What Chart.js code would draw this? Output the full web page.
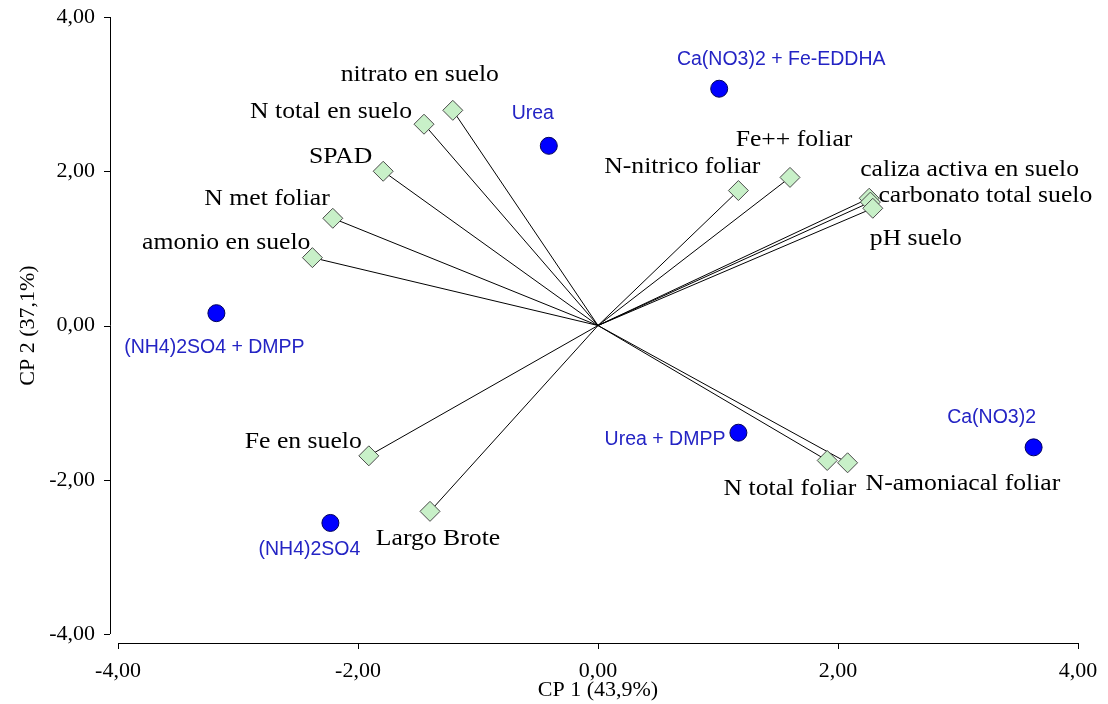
<!DOCTYPE html>
<html>
<head>
<meta charset="utf-8">
<script src="https://cdn.jsdelivr.net/npm/chart.js@4"></script>
<style>
  html, body { margin: 0; padding: 0; background: #fff; }
  #wrap { width: 1108px; height: 704px; }
</style>
</head>
<body>
<div id="wrap"><canvas id="biplot"></canvas></div>
<script>
// ── Datos: tratamientos (puntuaciones) ────────────────────────────────────
const TREAT_NAMES = ['(NH4)2SO4 + DMPP', 'Urea', 'Ca(NO3)2 + Fe-EDDHA', 'Urea + DMPP', 'Ca(NO3)2', '(NH4)2SO4'];
const TREAT_CP1   = [-3.18, -0.41, 1.01, 1.17, 3.63, -2.23];
const TREAT_CP2   = [ 0.16,  2.33, 3.07, -1.39, -1.58, -2.56];

// ── Datos: variables (cargas) ─────────────────────────────────────────────
const VAR_NAMES = [
  'nitrato en suelo', 'N total en suelo', 'SPAD', 'N met foliar', 'amonio en suelo',
  'Fe en suelo', 'Largo Brote', 'N-nitrico foliar', 'Fe++ foliar',
  'caliza activa en suelo', 'carbonato total suelo', 'pH suelo',
  'N total foliar', 'N-amoniacal foliar',
];
const VAR_CP1 = [-1.21, -1.45, -1.79, -2.21, -2.38, -1.91, -1.40, 1.17, 1.60, 2.26, 2.27, 2.29, 1.91, 2.08];
const VAR_CP2 = [ 2.79,  2.61,  2.00,  1.39,  0.88, -1.69, -2.41, 1.75, 1.92, 1.65, 1.60, 1.52, -1.75, -1.78];

const AXIS_TICKS = [-4, -2, 0, 2, 4];

// colocación de etiquetas (px respecto al punto)
const TREAT_LABEL = [
  { dx: -2,  dy: 34,  align: 'center' },
  { dx: -16, dy: -32, align: 'center' },
  { dx: 62,  dy: -29, align: 'center' },
  { dx: -13, dy: 7,   align: 'right'  },
  { dx: -42, dy: -30, align: 'center' },
  { dx: -21, dy: 27,  align: 'center' },
];
const VAR_LABEL = [
  { dx: -33, dy: -36, align: 'center' },
  { dx: -12, dy: -13, align: 'right'  },
  { dx: -11, dy: -15, align: 'right'  },
  { dx: -3,  dy: -20, align: 'right'  },
  { dx: -2,  dy: -15, align: 'right'  },
  { dx: -7,  dy: -14, align: 'right'  },
  { dx: 8,   dy: 27,  align: 'center' },
  { dx: 22,  dy: -24, align: 'right'  },
  { dx: 4,   dy: -38, align: 'center' },
  { dx: -9,  dy: -29, align: 'left'   },
  { dx: 8,   dy: -6,  align: 'left'   },
  { dx: -3,  dy: 30,  align: 'left'   },
  { dx: 29,  dy: 28,  align: 'right'  },
  { dx: 18,  dy: 21,  align: 'left'   },
];

const SERIF = "'Liberation Serif', 'Times New Roman', serif";
const SANS  = "'Liberation Sans', Arial, sans-serif";
const fmt = v => v.toFixed(2).replace('.', ',');

// ── Ejes desplazados (estilo SPSS) ────────────────────────────────────────
const offsetAxes = {
  id: 'offsetAxes',
  afterDraw(chart) {
    const { ctx, chartArea: a, scales: { x, y } } = chart;
    const ax = a.left - 8, ay = a.bottom + 9;
    ctx.save();
    ctx.strokeStyle = '#000';
    ctx.lineWidth = 1;
    ctx.beginPath();
    ctx.moveTo(ax + 0.5, a.top); ctx.lineTo(ax + 0.5, a.bottom);
    ctx.moveTo(a.left, ay + 0.5); ctx.lineTo(a.right, ay + 0.5);
    AXIS_TICKS.forEach(v => {
      const py = Math.round(y.getPixelForValue(v)) + 0.5;
      ctx.moveTo(ax - 6, py); ctx.lineTo(ax, py);
      const px = Math.round(x.getPixelForValue(v)) + 0.5;
      ctx.moveTo(px, ay); ctx.lineTo(px, ay + 6);
    });
    ctx.stroke();
    ctx.restore();
  },
};

// ── Etiquetas de puntos ───────────────────────────────────────────────────
function drawLabel(ctx, text, px, py, pos, font, color, stretch) {
  ctx.save();
  ctx.font = font;
  ctx.fillStyle = color;
  ctx.textAlign = pos.align;
  ctx.textBaseline = 'middle';
  ctx.translate(px + pos.dx, py + pos.dy);
  ctx.scale(stretch, 1);
  ctx.fillText(text, 0, 0);
  ctx.restore();
}

const pointLabels = {
  id: 'pointLabels',
  afterDatasetsDraw(chart) {
    const { ctx, scales: { x, y } } = chart;
    VAR_NAMES.forEach((n, i) => drawLabel(ctx, n,
      x.getPixelForValue(VAR_CP1[i]), y.getPixelForValue(VAR_CP2[i]),
      VAR_LABEL[i], `24px ${SERIF}`, '#000', 1.07));
    TREAT_NAMES.forEach((n, i) => drawLabel(ctx, n,
      x.getPixelForValue(TREAT_CP1[i]), y.getPixelForValue(TREAT_CP2[i]),
      TREAT_LABEL[i], `19.5px ${SANS}`, '#2424c4', 1));
  },
};

const vectorSets = VAR_NAMES.map((n, i) => ({
  label: n,
  data: [{ x: 0, y: 0 }, { x: VAR_CP1[i], y: VAR_CP2[i] }],
  showLine: true, borderColor: '#000', borderWidth: 1,
  pointRadius: 0, order: 3, clip: false,
}));

new Chart(document.getElementById('biplot'), {
  type: 'scatter',
  data: {
    datasets: [
      ...vectorSets,
      {
        label: 'variables',
        data: VAR_CP1.map((v, i) => ({ x: v, y: VAR_CP2[i] })),
        pointStyle: 'rectRot', pointRadius: 10,
        backgroundColor: '#c8f0c8', borderColor: '#4a4a4a', borderWidth: 1,
        order: 2, clip: false,
      },
      {
        label: 'tratamientos',
        data: TREAT_CP1.map((v, i) => ({ x: v, y: TREAT_CP2[i] })),
        pointStyle: 'circle', pointRadius: 8.5,
        backgroundColor: '#0000ff', borderColor: '#00005a', borderWidth: 1,
        order: 1, clip: false,
      },
    ],
  },
  options: {
    responsive: true, maintainAspectRatio: false, animation: false,
    layout: { padding: { top: 17, right: 30, left: 0, bottom: 0 } },
    plugins: { legend: { display: false }, tooltip: { enabled: false } },
    scales: {
      x: {
        min: -4, max: 4,
        afterFit: s => { s.height = 70; s.paddingLeft = 0; s.paddingRight = 0; },
        afterBuildTicks: s => { s.ticks = AXIS_TICKS.map(v => ({ value: v })); },
        grid: { display: false }, border: { display: false },
        ticks: { padding: 16, color: '#000', font: { family: SERIF, size: 22 }, callback: fmt, maxRotation: 0 },
        title: { display: true, text: 'CP 1 (43,9%)', color: '#000', font: { family: SERIF, size: 22 }, padding: { top: 0, bottom: 1 } },
      },
      y: {
        min: -4, max: 4,
        afterFit: s => { s.width = 118; s.paddingTop = 0; s.paddingBottom = 0; },
        afterBuildTicks: s => { s.ticks = AXIS_TICKS.map(v => ({ value: v })); },
        grid: { display: false }, border: { display: false },
        ticks: { padding: 15, color: '#000', font: { family: SERIF, size: 22 }, callback: fmt },
        title: { display: true, text: 'CP 2 (37,1%)', color: '#000', font: { family: SERIF, size: 22 }, padding: { top: 15, bottom: 0 } },
      },
    },
  },
  plugins: [offsetAxes, pointLabels],
});
</script>
</body>
</html>
